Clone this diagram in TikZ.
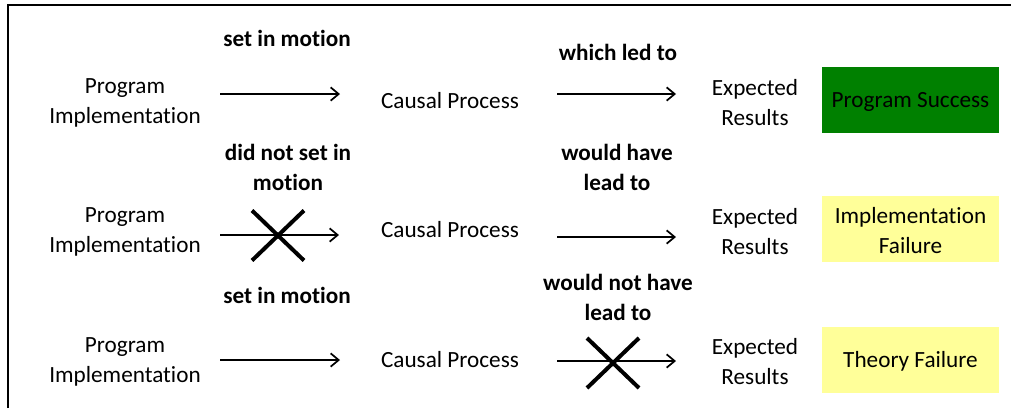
\documentclass[tikz,border=0pt]{standalone}
\usepackage{fontspec}
\setmainfont{Carlito}[Ligatures={NoCommon}]
\usetikzlibrary{arrows.meta}
\definecolor{succgreen}{RGB}{0,128,0}
\definecolor{failyellow}{RGB}{255,255,153}
\begin{document}
\begin{tikzpicture}[x=0.75pt,y=-0.75pt,
  txt/.style={font=\fontsize{17.4}{22.5}\selectfont, align=center, inner sep=0pt},
  lbl/.style={txt, font=\fontsize{17.4}{22.5}\selectfont\bfseries},
  arr/.style={line width=1.5pt, -{Straight Barb[length=6pt,width=10pt,line width=1.3pt]}},
  cross/.style={line width=3pt},
  resbox/.style={minimum width=177*0.75pt, minimum height=66*0.75pt, inner sep=0pt}
]
\useasboundingbox (0,0) rectangle (1011,408);
\draw[line width=1.5pt] (8,408) -- (8,5) -- (1011,5);

% Row 1
\node[lbl] (l1a) at (287,38) {set in motion};
\node[txt] (p1) at (125,103) {Program\\Implementation};
\node[txt] (c1) at (450,101) {Causal Process};
\node[lbl] (l1b) at (618,52) {which led to};
\node[txt] (e1) at (755,103) {Expected\\Results};
\node[resbox, fill=succgreen] (r1) at (910.5,100) {};
\node[txt] (t1) at (910.5,102) {Program Success};
\coordinate (a1s) at (220,94); \coordinate (a1e) at (340,94);
\coordinate (b1s) at (557,94); \coordinate (b1e) at (676,94);
\draw[arr] (a1s) -- (a1e);
\draw[arr] (b1s) -- (b1e);

% Row 2
\node[lbl] (l2a) at (288,167) {did not set in\\motion};
\node[txt] (p2) at (125,232) {Program\\Implementation};
\node[txt] (c2) at (450,230) {Causal Process};
\node[lbl] (l2b) at (617,167) {would have\\lead to};
\node[txt] (e2) at (755,232) {Expected\\Results};
\node[resbox, fill=failyellow] (r2) at (910.5,229) {};
\node[txt] (t2) at (910.5,231) {Implementation\\Failure};
\coordinate (a2s) at (220,235); \coordinate (a2e) at (339,235);
\coordinate (b2s) at (557,237); \coordinate (b2e) at (676,237);
\draw[arr] (a2s) -- (a2e);
\draw[arr] (b2s) -- (b2e);
\coordinate (x2) at (278,235.5);
\draw[cross] ([shift={(-26,-25)}]x2) -- ([shift={(26,25)}]x2);
\draw[cross] ([shift={(-26,25)}]x2) -- ([shift={(26,-25)}]x2);

% Row 3
\node[lbl] (l3a) at (287,295) {set in motion};
\node[txt] (p3) at (125,362) {Program\\Implementation};
\node[txt] (c3) at (450,360) {Causal Process};
\node[lbl] (l3b) at (618,297) {would not have\\lead to};
\node[txt] (e3) at (755,362) {Expected\\Results};
\node[resbox, fill=failyellow] (r3) at (910.5,359.5) {};
\node[txt] (t3) at (910.5,361.5) {Theory Failure};
\coordinate (a3s) at (220,360); \coordinate (a3e) at (340,360);
\coordinate (b3s) at (557,361); \coordinate (b3e) at (676,361);
\draw[arr] (a3s) -- (a3e);
\draw[arr] (b3s) -- (b3e);
\coordinate (x3) at (613,363);
\draw[cross] ([shift={(-26,-25)}]x3) -- ([shift={(26,25)}]x3);
\draw[cross] ([shift={(-26,25)}]x3) -- ([shift={(26,-25)}]x3);
\end{tikzpicture}
\end{document}
